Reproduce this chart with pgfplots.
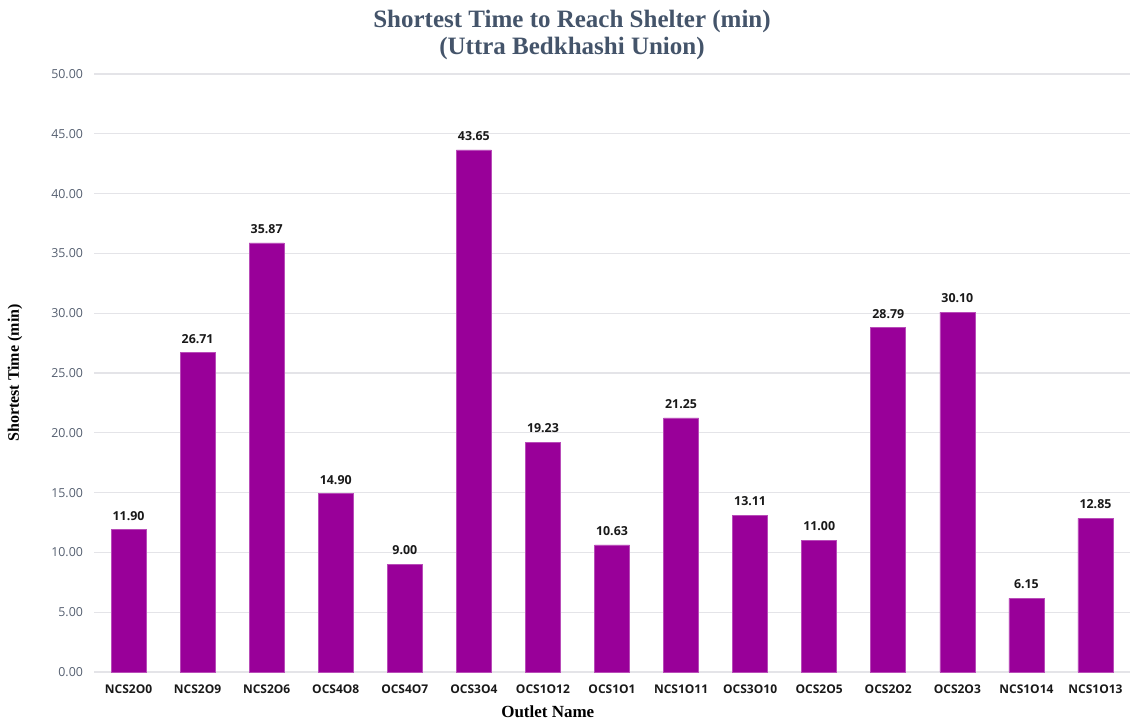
\documentclass[border=0pt]{standalone}
\usepackage{fontspec}
\setmainfont{Liberation Serif}
\newfontfamily\opensans{Open Sans}
\usepackage{pgfplots}
\pgfplotsset{compat=1.18}
\usepackage{pgfplotstable}

\definecolor{barpurple}{HTML}{990099}
\definecolor{titleslate}{HTML}{44546A}
\definecolor{tickgray}{HTML}{555F70}
\definecolor{gridgray}{HTML}{E4E4E8}

% shortest time per outlet (min)
\pgfplotstableread{
idx time
0  11.90
1  26.71
2  35.87
3  14.90
4  9.00
5  43.65
6  19.23
7  10.63
8  21.25
9  13.11
10 11.00
11 28.79
12 30.10
13 6.15
14 12.85
}\sheltertimes

\begin{document}
\begin{tikzpicture}
\begin{axis}[
    scale only axis,
    width=518pt, height=299pt,
    xmin=-0.5, xmax=14.5,
    ymin=0, ymax=50,
    clip=false,
    ybar, bar width=17.5pt,
    axis line style={draw=none},
    major tick length=0pt,
    xtick={0,...,14},
    xticklabels={NCS2O0,NCS2O9,NCS2O6,OCS4O8,OCS4O7,OCS3O4,OCS1O12,OCS1O1,NCS1O11,OCS3O10,OCS2O5,OCS2O2,OCS2O3,NCS1O14,NCS1O13},
    xticklabel style={font=\opensans\bfseries\fontsize{6}{7}\selectfont, text=black!90, yshift=-3pt},
    ytick={0,5,...,50},
    yticklabel style={font=\opensans\fontsize{6.2}{7}\selectfont, text=tickgray, xshift=-2pt},
    /pgf/number format/fixed,
    /pgf/number format/zerofill,
    /pgf/number format/precision=2,
    /pgf/number format/assume math mode=true,
    ymajorgrids,
    grid style={gridgray, line width=0.6pt},
    xlabel={Outlet Name},
    ylabel={Shortest Time (min)},
    every axis x label/.style={at={(axis description cs:0.438,-0.0669)}, anchor=center, font=\bfseries\fontsize{8.5}{10}\selectfont},
    every axis y label/.style={at={(axis description cs:-0.0763,0.5)}, anchor=center, rotate=90, font=\bfseries\fontsize{8}{10}\selectfont},
    nodes near coords,
    every node near coord/.append style={font=\opensans\bfseries\fontsize{6.2}{7}\selectfont, text=black!90, inner sep=0pt, yshift=4.5pt},
]
\addplot[fill=barpurple, draw=barpurple!70, line width=0.3pt, bar shift=0pt] table[x=idx, y=time] {\sheltertimes};

\node[font=\bfseries\fontsize{12.5}{13.5}\selectfont, text=titleslate, align=center]
    at (axis description cs:0.4614,1.066)
    {Shortest Time to Reach Shelter (min)\\(Uttra Bedkhashi Union)};
\end{axis}
\pgfresetboundingbox
\path[use as bounding box]
    ([shift={(-47pt,-25pt)}]current axis.south west)
    rectangle ([shift={(4.5pt,37pt)}]current axis.north east);
\end{tikzpicture}
\end{document}
